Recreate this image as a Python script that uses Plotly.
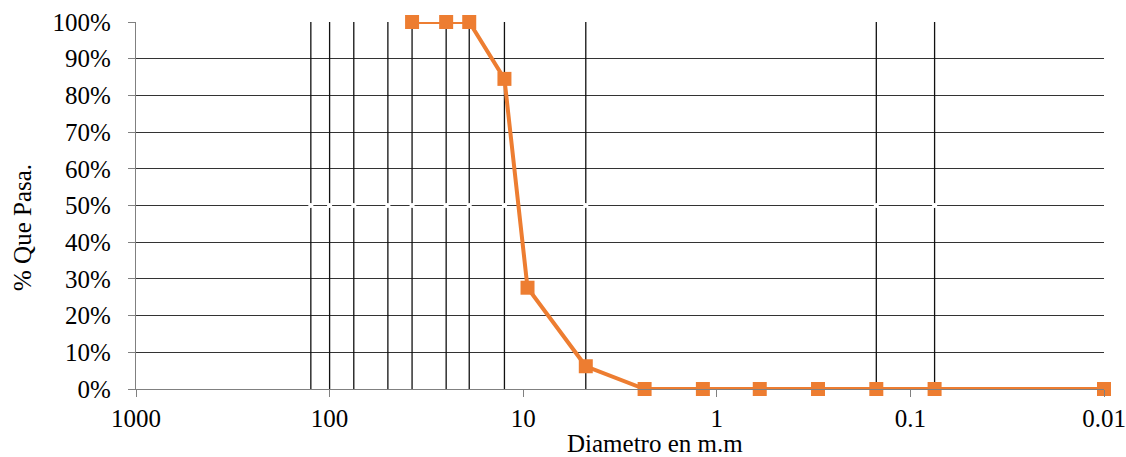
import plotly.graph_objects as go

# Sieve openings (mm) and percent passing
diametro = [37.5, 25, 19, 12.5, 9.5, 4.75, 2.36, 1.18, 0.6, 0.3, 0.15, 0.075, 0.01]
que_pasa = [100, 100, 100, 84.5, 27.6, 6.2, 0, 0, 0, 0, 0, 0, 0]

# Reference sieve sizes drawn as vertical guide lines
tamices = [125, 100, 75, 50, 37.5, 25, 19, 12.5, 4.75, 0.15, 0.075]

x_ticks = [1000, 100, 10, 1, 0.1, 0.01]
x_labels = ["1000", "100", "10", "1", "0.1", "0.01"]

FONT = "Liberation Serif"
FS = 25

# Build vertical segments from 0 % to 100 %
vx, vy = [], []
for t in tamices:
    vx += [t, t, None]
    vy += [0, 100, None]

fig = go.Figure()
fig.add_trace(go.Scatter(
    x=vx, y=vy, mode="lines",
    line=dict(color="#111111", width=1.3),
    hoverinfo="skip", showlegend=False,
))
fig.add_trace(go.Scatter(
    x=tamices, y=[50] * len(tamices), mode="markers",
    marker=dict(color="white", size=5, line=dict(width=0)),
    hoverinfo="skip", showlegend=False,
))
fig.add_trace(go.Scatter(
    x=diametro, y=que_pasa, mode="lines+markers",
    line=dict(color="#ED7D31", width=4),
    marker=dict(symbol="square", size=14, color="#ED7D31"),
    cliponaxis=False, showlegend=False,
))

fig.update_xaxes(
    type="log", range=[3, -2],
    tickvals=x_ticks, ticktext=x_labels,
    showgrid=False, zeroline=False,
    showline=True, linecolor="#808080", linewidth=1.3,
    ticks="outside", ticklen=7, tickcolor="#808080",
    tickfont=dict(family=FONT, size=FS, color="black"),
)
fig.update_yaxes(
    range=[0, 100], dtick=10, ticksuffix="%",
    showgrid=True, gridcolor="#333333", gridwidth=1,
    zeroline=False,
    showline=True, linecolor="#808080", linewidth=1.3,
    ticks="outside", ticklen=7, tickcolor="#808080",
    ticklabelstandoff=12,
    tickfont=dict(family=FONT, size=FS, color="black"),
)

fig.add_annotation(
    text="Diametro en m.m", xref="paper", yref="paper",
    x=(655 - 136) / 968, y=-(444 - 389) / 367,
    xanchor="center", yanchor="middle", showarrow=False,
    font=dict(family=FONT, size=FS, color="black"),
)
fig.add_annotation(
    text="% Que Pasa.", xref="paper", yref="paper",
    x=-(136 - 22) / 968, y=(389 - 228) / 367, textangle=-90,
    xanchor="center", yanchor="middle", showarrow=False,
    font=dict(family=FONT, size=FS, color="black"),
)

fig.update_layout(
    width=1126, height=457,
    margin=dict(l=136, r=22, t=22, b=68, autoexpand=False),
    paper_bgcolor="white", plot_bgcolor="white",
    font=dict(family=FONT),
)

fig.write_html("out.html")
